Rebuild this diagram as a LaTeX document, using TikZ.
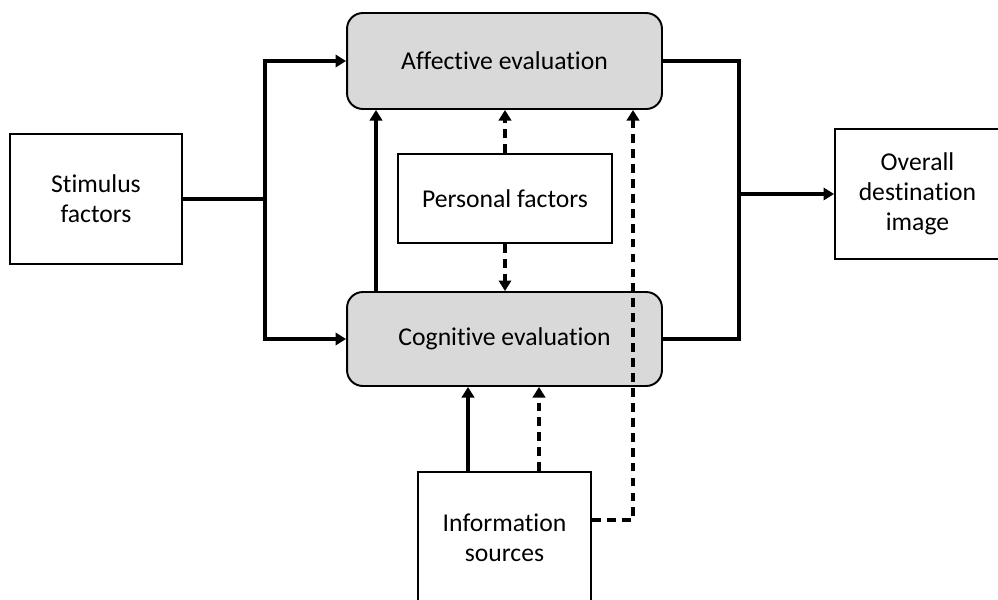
\documentclass[tikz,border=0pt]{standalone}
\usepackage{fontspec}
\setmainfont{Carlito}[Ligatures=NoCommon]
\usetikzlibrary{arrows.meta}
\definecolor{evalgray}{RGB}{217,217,217}
\tikzset{
	box/.style={draw, line width=1.1pt, align=center, inner sep=0pt, font=\fontsize{14.6}{17}\selectfont},
	evalbox/.style={box, rounded corners=9pt, fill=evalgray, minimum width=6.3cm},
	link/.style={line width=2.2pt},
	arr/.style={link, -{Triangle[length=6pt,width=7pt]}},
	dlink/.style={dash pattern=on 5pt off 3.5pt},
}
\begin{document}
\begin{tikzpicture}[x=0.02cm, y=-0.02cm]
	    \clip (0,0) rectangle (998,599);
	    \useasboundingbox (0,0) rectangle (998,599);
	    \node[box, minimum width=3.44cm, minimum height=2.6cm] (stim) at (96,199) {Stimulus\\factors};
	    \node[evalbox, minimum height=1.92cm] (aff) at (504.5,61) {Affective evaluation};
	    \node[evalbox, minimum height=1.88cm] (cog) at (504.5,339) {Cognitive evaluation};
	    \node[box, minimum width=4.28cm, minimum height=1.78cm] (pers) at (505,198.5) {Personal factors};
	    \node[box, minimum width=3.46cm, minimum height=2.64cm] (info) at (504.5,538) {Information\\sources};
	    \node[box, minimum width=3.3cm, minimum height=2.6cm] (over) at (917.5,194) {Overall\\destination\\image};
	    \coordinate (jl) at (stim.east -| 265,0);
	    \coordinate (jr) at (over.west -| 739,0);
	    % stimulus to both evaluations
	    \draw[link] (stim.east) -- (jl);
	    \draw[arr] (jl) |- (aff.west);
	    \draw[arr] (jl) |- (cog.west);
	    % evaluations to overall image
	    \draw[link] (aff.east) -| (jr) |- (cog.east);
	    \draw[arr] (jr) -- (over.west);
	    \draw[arr] (cog.north -| 376,0) -- (aff.south -| 376,0);
	    \draw[arr, dlink] (pers.north) -- (aff.south -| pers.north);
	    \draw[arr, dlink] (pers.south) -- (cog.north -| pers.south);
	    \draw[arr] (info.north -| 468,0) -- (cog.south -| 468,0);
	    \draw[arr, dlink] (info.north -| 539,0) -- (cog.south -| 539,0);
	    \draw[arr, dlink] (info.east |- 0,520) -| (aff.south -| 633,0);
	\end{tikzpicture}
\end{document}
